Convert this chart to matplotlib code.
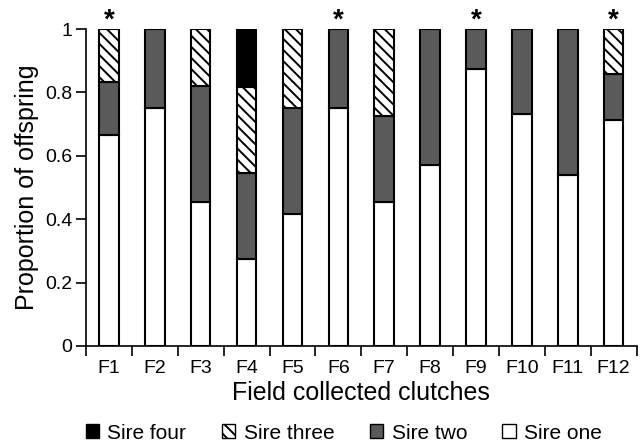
import matplotlib
matplotlib.use("Agg")
import matplotlib.pyplot as plt
import numpy as np
from matplotlib.patches import Patch

plt.rcParams['font.family'] = ['Liberation Sans', 'DejaVu Sans']
plt.rcParams['hatch.linewidth'] = 1.4

clutches = ['F1', 'F2', 'F3', 'F4', 'F5', 'F6', 'F7', 'F8', 'F9', 'F10', 'F11', 'F12']
sire_one = [0.667, 0.75, 0.455, 0.273, 0.417, 0.75, 0.455, 0.571, 0.875, 0.733, 0.538, 0.714]
sire_two = [0.166, 0.25, 0.364, 0.273, 0.333, 0.25, 0.272, 0.429, 0.125, 0.267, 0.462, 0.143]
sire_three = [0.167, 0.0, 0.181, 0.272, 0.25, 0.0, 0.273, 0.0, 0.0, 0.0, 0.0, 0.143]
sire_four = [0.0, 0.0, 0.0, 0.182, 0.0, 0.0, 0.0, 0.0, 0.0, 0.0, 0.0, 0.0]
significant = ['F1', 'F6', 'F9', 'F12']

fig = plt.figure(figsize=(6.44, 4.43), dpi=100)
ax = fig.add_axes([0.1335, 0.219, 0.855, 0.7155])

x = np.arange(len(clutches))
w = 0.425
b1 = np.array(sire_one)
b2 = b1 + np.array(sire_two)
b3 = b2 + np.array(sire_three)
ec = 'black'
lw = 1.5
dark = '#5a5a5a'
hatch = '\\' * 3
ax.bar(x, sire_one, w, color='white', edgecolor=ec, linewidth=lw, zorder=2)
ax.bar(x, sire_two, w, bottom=b1, color=dark, edgecolor=ec, linewidth=lw, zorder=2)
st = np.array(sire_three)
ax.bar(x[st > 0], st[st > 0], w, bottom=b2[st > 0], color='white', edgecolor=ec,
       hatch=hatch, linewidth=lw, zorder=2)
s4 = np.array(sire_four)
ax.bar(x[s4 > 0], s4[s4 > 0], w, bottom=b3[s4 > 0], color='black', edgecolor=ec, linewidth=lw, zorder=2)

for c in significant:
    i = clutches.index(c)
    ax.text(i, 1.004, '*', ha='center', va='baseline', fontsize=20, fontweight='bold', clip_on=False)

ax.set_xlim(-0.5, len(clutches) - 0.5)
ax.set_ylim(0, 1)
ax.set_yticks([0, 0.2, 0.4, 0.6, 0.8, 1.0])
ax.set_yticklabels(['0', '0.2', '0.4', '0.6', '0.8', '1'])
ax.set_xticks(x)
ax.set_xticklabels(clutches)
ax.set_xticks(np.arange(-0.5, len(clutches), 1.0), minor=True)
ax.tick_params(axis='x', which='major', length=0, pad=10, labelsize=14)
ax.tick_params(axis='x', which='minor', length=7, width=1.2, direction='out')
ax.tick_params(axis='y', length=7, width=1.2, labelsize=14, pad=3)
for s in ['top', 'right']:
    ax.spines[s].set_visible(False)
for s in ['left', 'bottom']:
    ax.spines[s].set_linewidth(1.2)

ax.set_xlabel('Field collected clutches', fontsize=18, labelpad=3)
ax.set_ylabel('Proportion of offspring', fontsize=18, labelpad=4)

handles = [
    Patch(facecolor='black', edgecolor='black', label='Sire four'),
    Patch(facecolor='white', edgecolor='black', hatch=hatch, label='Sire three'),
    Patch(facecolor=dark, edgecolor='black', label='Sire two'),
    Patch(facecolor='white', edgecolor='black', label='Sire one'),
]
fig.legend(handles=handles, loc='center', bbox_to_anchor=(0.534, 0.022), ncol=4,
           frameon=False, fontsize=15, handlelength=0.65, handleheight=0.65,
           handletextpad=0.4, columnspacing=1.7, borderpad=0.1)

fig.savefig('out.png', dpi=100)
